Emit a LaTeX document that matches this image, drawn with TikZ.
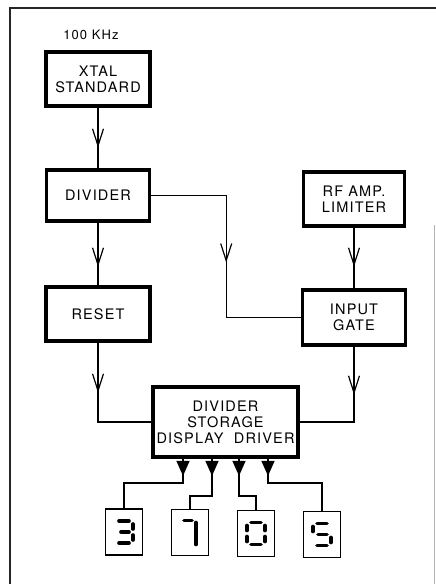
\documentclass[tikz,border=0pt]{standalone}
\usepackage{fontspec}
\setmainfont[LetterSpace=8]{TeX Gyre Heros}
\usetikzlibrary{arrows.meta,decorations.markings,positioning}

\begin{document}
\begin{tikzpicture}[
    x=1pt, y=-1pt,
    block/.style={rectangle, draw=black, line width=3.4pt, inner sep=0pt, align=center, font=\fontsize{14.5}{16}\selectfont},
    readout/.style={rectangle, draw=black, line width=1.5pt, inner sep=0pt, minimum width=37pt, minimum height=46pt},
    wire/.style={line width=1.2pt},
    vee/.style={postaction={decorate}, decoration={markings, mark=at position #1 with {\arrow{Straight Barb[length=17pt,width=11pt]}}}},
    pin/.style={postaction={decorate}, decoration={markings, mark=at position #1 with {\arrow{Triangle[length=15pt,width=13pt]}}}},
    seg/.style={line width=3.6pt, line cap=round}
]
\useasboundingbox (0,0) rectangle (436,584);

% Frame
\draw[line width=1.6pt, black!85] (10,584) -- (10,8) -- (436,8);
\draw[line width=0.8pt, black!30] (434,225) -- (434,584);

% Blocks
\node[font=\fontsize{13}{15}\selectfont] (freq) at (91,35) {100 KHz};
\node[block, minimum width=104pt, minimum height=54pt] (xtal) at (98,79) {XTAL\\STANDARD};
\node[block, minimum width=103pt, minimum height=51pt] (div) at (98,195.5) {DIVIDER};
\node[block, minimum width=101pt, minimum height=54pt] (rf) at (354,199) {RF AMP.\\LIMITER};
\node[block, minimum width=104pt, minimum height=54pt] (reset) at (98,314) {RESET};
\node[block, minimum width=103pt, minimum height=55pt] (gate) at (354,317.5) {INPUT\\GATE};
\node[block, line width=3.8pt, minimum width=145pt, minimum height=70pt] (stor) at (225.5,422) {DIVIDER\\STORAGE\\DISPLAY\ \ DRIVER};

% Readouts
\node[readout] (d1) at (124,532) {};
\node[readout] (d2) at (190,532.5) {};
\node[readout] (d3) at (256,533.5) {};
\node[readout] (d4) at (322,534.5) {};

% Connect blocks
\draw[wire, vee=40pt] (xtal) -- (div);
\draw[wire, vee=44pt] (div) -- (reset);
\draw[wire, vee=142pt] (div.east) -- ++(75,0) |- (gate.west);
\draw[wire, vee=39pt] (rf) -- (gate);
\draw[wire, vee=50pt] (reset.south) |- (stor.west);
\draw[wire, vee=48pt] (gate.south) |- (stor.east);

% Driver outputs
\foreach \dx/\dy/\d in {-42.5/24/d1, -13.5/37/d2, 13.5/37/d3, 42.5/24/d4}
  \draw[wire, pin=17pt] ([xshift=\dx pt]stor.south) -- ++(0,\dy) -| (\d.north);

% Segments
\begin{scope}[shift={(d1.center)}]
  \foreach \xa/\ya/\xb/\yb in {-5/-11/5/-11, -3/0/5/0, -5/11/5/11, 9/-8/9/-3, 9/3/9/8}
    \draw[seg] (\xa,\ya) -- (\xb,\yb);
\end{scope}
\begin{scope}[shift={(d2.center)}]
  \foreach \xa/\ya/\xb/\yb in {-6/-12/2/-12, 6/-10/6/12}
    \draw[seg] (\xa,\ya) -- (\xb,\yb);
\end{scope}
\begin{scope}[shift={(d3.center)}]
  \foreach \xa/\ya/\xb/\yb in {-5/-11/5/-11, -5/11/5/11, 9/-8/9/-3, 9/3/9/8, -9/-8/-9/-3, -9/3/-9/8}
    \draw[seg] (\xa,\ya) -- (\xb,\yb);
\end{scope}
\begin{scope}[shift={(d4.center)}]
  \foreach \xa/\ya/\xb/\yb in {-5/-11/5/-11, -9/-8/-9/-3, -4/0/5/0, 9/3/9/8, -5/11/5/11}
    \draw[seg] (\xa,\ya) -- (\xb,\yb);
\end{scope}

\end{tikzpicture}
\end{document}
